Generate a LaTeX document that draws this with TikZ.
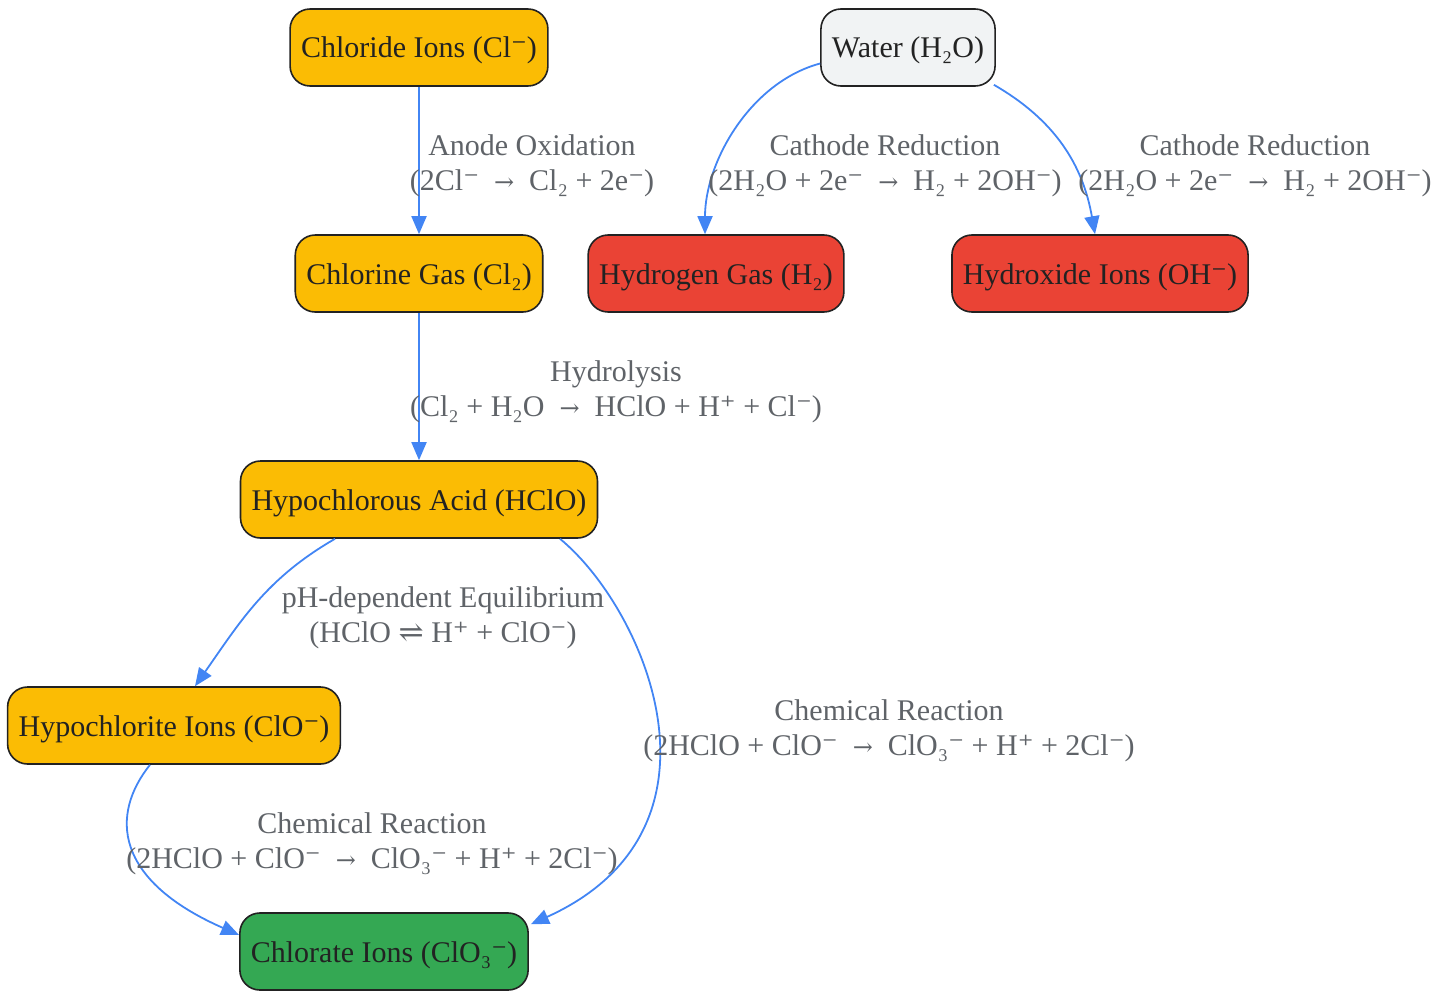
\documentclass[tikz,border=0pt]{standalone}
\usepackage{fontspec}
\setmainfont{Liberation Serif}
\newfontfamily\symfont{DejaVu Serif}
\usepackage{newunicodechar}
\newunicodechar{⁻}{{\symfont ⁻}}
\newunicodechar{⁺}{{\symfont ⁺}}
\usepackage{tikz}
\usetikzlibrary{arrows.meta}
\usetikzlibrary{calc}
\usetikzlibrary{positioning}

\definecolor{chlyellow}{HTML}{FBBC04}
\definecolor{chlred}{HTML}{EA4335}
\definecolor{chlgreen}{HTML}{34A853}
\definecolor{chlgray}{HTML}{F1F3F4}
\definecolor{chlblue}{HTML}{4285F4}
\definecolor{chltext}{HTML}{222222}
\definecolor{chllabel}{HTML}{5F6368}
\newcommand{\rxn}{\enspace{\symfont\fontsize{24}{35}\selectfont\char"2192}\enspace}
\newcommand{\eqm}{{\symfont\char"21CC}}

\begin{document}
\begin{tikzpicture}[
  x=1pt, y=-1pt,
  > = {Triangle[length=18pt,width=15pt]},
  box/.style = {draw=chltext, line width=1.6pt, rounded corners=20pt, minimum height=77pt,
    inner xsep=11pt, text height=22pt, text depth=1pt, text=chltext, font=\fontsize{30}{35}\selectfont},
  lbl/.style = {align=center, text=chllabel, font=\fontsize{30}{35}\selectfont},
  flow/.style = {->, draw=chlblue, line width=1.8pt}
  ]
	\useasboundingbox (0,0) rectangle (1447,990);

	\node[box,fill=chlyellow] (chloride) at (419,47.5) {Chloride Ions (Cl⁻)};
	\node[box,fill=chlgray] (water) at (908,47.5) {Water (H₂O)};
	\node[box,fill=chlyellow] (chlorine) at (419,273.5) {Chlorine Gas (Cl₂)};
	\node[box,fill=chlred] (hydrogen) at (716,273.5) {Hydrogen Gas (H₂)};
	\node[box,fill=chlred] (hydroxide) at (1100,273.5) {Hydroxide Ions (OH⁻)};
	\node[box,fill=chlyellow] (hclo) at (419,499.5) {Hypochlorous Acid (HClO)};
	\node[box,fill=chlyellow] (clo) at (174,725.5) {Hypochlorite Ions (ClO⁻)};
	\node[box,fill=chlgreen] (chlorate) at (384,951.5) {Chlorate Ions (ClO₃⁻)};

	\draw[flow] (chloride) -- (chlorine);
	\draw[flow] ([yshift=-16pt]water.west) to[out=195,in=90,looseness=0.9] ([xshift=-11pt]hydrogen.north);
	\draw[flow] ([xshift=-2pt,yshift=2pt]water.south east) to[out=-30,in=100] ([xshift=-5pt]hydroxide.north);
	\draw[flow] (chlorine) -- (hclo);
	\draw[flow] ([xshift=-84pt]hclo.south) to[out=210,in=55] ([xshift=21pt]clo.north);
	\draw[flow] ([xshift=141pt]hclo.south) .. controls +(85,70) and +(210,-95) .. ([xshift=2pt,yshift=-12pt]chlorate.north east);
	\draw[flow] ([xshift=-24pt]clo.south) .. controls +(-40,50) and +(-125,-55) .. ([yshift=16.5pt]chlorate.west);

	\node[lbl] (anode) at (532,166) {Anode Oxidation\\(2Cl⁻\rxn Cl₂ + 2e⁻)};
	\node[lbl] (cathodeh) at (885,166) {Cathode Reduction\\(2H₂O + 2e⁻\rxn H₂ + 2OH⁻)};
	\node[lbl] (cathodeoh) at (1255,166) {Cathode Reduction\\(2H₂O + 2e⁻\rxn H₂ + 2OH⁻)};
	\node[lbl] (hydrolysis) at (616,392) {Hydrolysis\\(Cl₂ + H₂O\rxn HClO + H⁺ + Cl⁻)};
	\node[lbl] (equil) at (443,618) {pH-dependent Equilibrium\\(HClO \eqm{} H⁺ + ClO⁻)};
	\node[lbl] (chemright) at (889,731) {Chemical Reaction\\(2HClO + ClO⁻\rxn ClO₃⁻ + H⁺ + 2Cl⁻)};
	\node[lbl] (chemleft) at (372,844) {Chemical Reaction\\(2HClO + ClO⁻\rxn ClO₃⁻ + H⁺ + 2Cl⁻)};

\end{tikzpicture}
\end{document}
